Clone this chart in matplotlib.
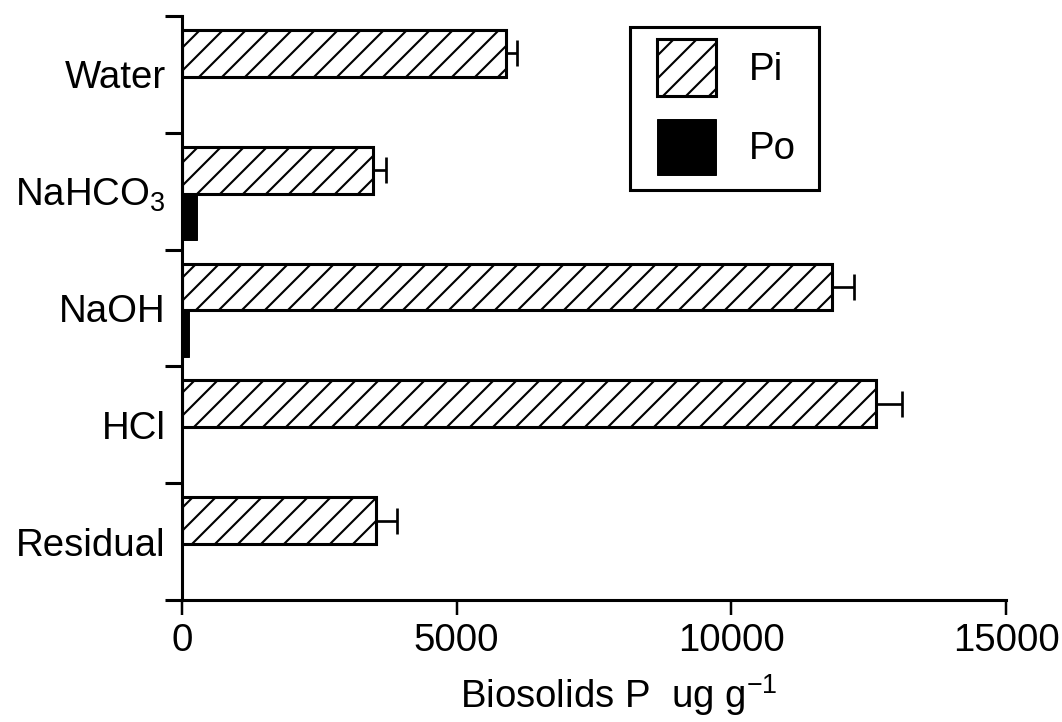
import matplotlib
matplotlib.use("Agg")
import matplotlib.pyplot as plt
from matplotlib.patches import Rectangle
import numpy as np

categories = ["Water", "NaHCO$_3$", "NaOH", "HCl", "Residual"]
pi_values = [5900, 3470, 11840, 12640, 3530]
pi_err = [200, 240, 400, 460, 380]
po_values = [0, 280, 130, 0, 0]
x_ticks = [0, 5000, 10000, 15000]

DPI = 138
plt.rcParams['font.family'] = ['Liberation Sans', 'DejaVu Sans']
plt.rcParams['mathtext.fontset'] = 'custom'
plt.rcParams['mathtext.rm'] = 'Liberation Sans'
plt.rcParams['mathtext.it'] = 'Liberation Sans:italic'
plt.rcParams['mathtext.bf'] = 'Liberation Sans:bold'
plt.rcParams['mathtext.default'] = 'regular'
plt.rcParams['hatch.linewidth'] = 1.1
plt.rcParams['hatch.color'] = 'black'

FS = 20

fig = plt.figure(figsize=(1062 / DPI, 722 / DPI), dpi=DPI)
ax = fig.add_axes([182 / 1062, (722 - 600) / 722, (1006 - 182) / 1062, (600 - 16) / 722])

n = len(categories)
idx = np.arange(n)
h = 0.4
pi_pos = idx + 0.32
po_pos = idx + 0.72

ax.barh(pi_pos, pi_values, height=h, color='white', edgecolor='black',
        linewidth=1.6, hatch='//', label='Pi', zorder=2)
ax.errorbar(pi_values, pi_pos, xerr=[np.zeros(n), pi_err], fmt='none',
            ecolor='black', elinewidth=1.4, capsize=7, capthick=1.4, zorder=3)
ax.barh(po_pos, po_values, height=h, color='black', edgecolor='black',
        linewidth=0.5, label='Po', zorder=2)

ax.set_xlim(0, 15000)
ax.set_ylim(n, 0)
ax.set_xticks(x_ticks)
ax.set_xticklabels([str(v) for v in x_ticks])
ax.set_yticks(np.arange(n + 1))
ax.set_yticklabels([])
ax.set_yticks(idx + 0.5, minor=True)
ax.set_yticklabels(categories, minor=True)

for s in ['top', 'right']:
    ax.spines[s].set_visible(False)
for s in ['left', 'bottom']:
    ax.spines[s].set_linewidth(1.6)

ax.tick_params(axis='y', which='major', direction='out', length=9, width=1.6)
ax.tick_params(axis='y', which='minor', length=0, pad=8.5, labelsize=FS)
ax.tick_params(axis='x', which='major', direction='out', length=7.8, width=1.3,
               pad=4, labelsize=FS)

ax.set_xlabel("Biosolids P  ug g$^{-1}$", fontsize=FS, labelpad=7, x=0.53)

leg = ax.legend(loc='upper left', bbox_to_anchor=((657 - 182) / 824, (600 - 39) / 584),
                borderaxespad=0, borderpad=0, fontsize=FS, frameon=False,
                handlelength=1.55, handleheight=1.9, handletextpad=0.85,
                labelspacing=0.6)
ax.add_patch(Rectangle(((630 - 182) / 824, (600 - 190) / 584),
                       (819 - 630) / 824, (190 - 27) / 584,
                       transform=ax.transAxes, fill=False, edgecolor='black',
                       linewidth=1.6, clip_on=False, zorder=4))

fig.savefig("out.png", dpi=DPI)
